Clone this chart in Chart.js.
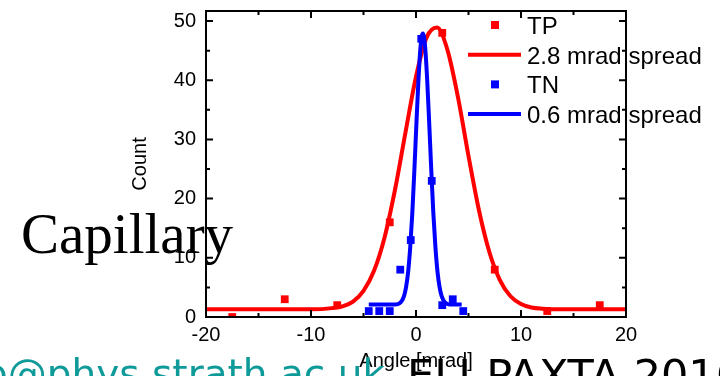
<!DOCTYPE html>
<html>
<head>
<meta charset="utf-8">
<script src="https://cdn.jsdelivr.net/npm/chart.js@4/dist/chart.umd.min.js"></script>
<style>
  html, body { margin: 0; padding: 0; background: #fff; overflow: hidden; }
  #wrap { position: relative; width: 720px; height: 376px; overflow: hidden; }
  canvas { position: absolute; left: 0; top: 0; }
  .slide { position: absolute; white-space: nowrap; line-height: 1; }
  #capillary { left: 21px; top: 201px; font: 57px "Liberation Serif", serif; color: #000; }
  #email { left: -17px; top: 351px; font: 39px "DejaVu Sans", sans-serif; color: #0f9a9a; }
  #event { left: 407px; top: 350px; font: 43px "DejaVu Sans", sans-serif; color: #000; }
</style>
</head>
<body>
<div id="wrap">
  <canvas id="chart" width="720" height="376"></canvas>
  <div class="slide" id="capillary">Capillary</div>
  <div class="slide" id="email">p@phys.strath.ac.uk</div>
  <div class="slide" id="event">ELI-PAXTA 2016</div>
</div>
<script>
// measured counts (squares)
const TP_ANGLE = [-17.5, -12.5, -7.5, -2.5, 2.5, 7.5, 12.5, 17.5];
const TP_COUNT = [0, 3, 2, 16, 48, 8, 1, 2];
const TN_ANGLE = [-4.5, -3.5, -2.5, -1.5, -0.5, 0.5, 1.5, 2.5, 3.5, 4.5];
const TN_COUNT = [1, 1, 1, 8, 13, 47, 23, 2, 3, 1];

// fitted curves
const FIT_TP_ANGLE = [-20, -14, -10, -8, -7, -6, -5, -4, -3, -2, -1, 0, 1, 2, 3, 4, 5, 6, 7, 8, 9, 10, 11, 12, 14, 20];
const FIT_TP_COUNT = [1.3, 1.3, 1.3, 1.5, 1.8, 2.6, 4.4, 7.8, 13.4, 21.5, 31.2, 40.6, 47.2, 48.9, 45.1, 37.1, 27.2, 18.0, 10.9, 6.2, 3.5, 2.2, 1.6, 1.4, 1.3, 1.3];
const FIT_TN_ANGLE = [-4.5, -2, -1.45, -1.15, -0.95, -0.75, -0.55, -0.35, -0.15, 0.05, 0.25, 0.45, 0.65, 0.85, 1.05, 1.25, 1.45, 1.65, 1.85, 2.05, 2.25, 2.45, 2.75, 3.25, 4.35];
const FIT_TN_COUNT = [2.1, 2.1, 2.5, 3.5, 5.0, 7.6, 11.8, 17.6, 25.0, 33.1, 40.6, 46.0, 47.9, 46.0, 40.6, 33.1, 25.0, 17.6, 11.8, 7.6, 5.0, 3.5, 2.5, 2.1, 2.1];

const LEGEND_LABELS = ['TP', '2.8 mrad spread', 'TN', '0.6 mrad spread'];

// axes
const X_TICKS = [-20, -10, 0, 10, 20];
const X_MINOR = [-15, -5, 5, 15];
const Y_TICKS = [0, 10, 20, 30, 40, 50];
const Y_MINOR = [5, 15, 25, 35, 45];

const RED = '#ff0000';
const BLUE = '#0000ff';
const FONT = 'Liberation Sans, Arial, sans-serif';

const toPoints = (xs, ys) => xs.map((x, i) => ({ x, y: ys[i] }));

// box frame with inward ticks on all four sides
const frameTicks = {
  id: 'frameTicks',
  afterDatasetsDraw(chart) {
    const { ctx, chartArea: a, scales: { x, y } } = chart;
    ctx.save();
    ctx.strokeStyle = '#000';
    ctx.lineWidth = 2;
    ctx.strokeRect(a.left, a.top, a.right - a.left, a.bottom - a.top);
    ctx.beginPath();
    const xt = (v, len) => {
      const px = x.getPixelForValue(v);
      ctx.moveTo(px, a.bottom); ctx.lineTo(px, a.bottom - len);
      ctx.moveTo(px, a.top); ctx.lineTo(px, a.top + len);
    };
    const yt = (v, len) => {
      const py = y.getPixelForValue(v);
      ctx.moveTo(a.left, py); ctx.lineTo(a.left + len, py);
      ctx.moveTo(a.right, py); ctx.lineTo(a.right - len, py);
    };
    X_TICKS.forEach(v => xt(v, 7));
    X_MINOR.forEach(v => xt(v, 4));
    Y_TICKS.forEach(v => yt(v, 7));
    Y_MINOR.forEach(v => yt(v, 4));
    ctx.stroke();
    ctx.restore();
  }
};

// legend sitting over the top-right corner of the plot
const insetLegend = {
  id: 'insetLegend',
  afterDraw(chart) {
    const ctx = chart.ctx;
    ctx.save();
    ctx.font = '24px ' + FONT;
    ctx.textBaseline = 'alphabetic';
    chart.data.datasets.forEach((ds, i) => {
      const base = 34 + i * 29.7;
      const mid = base - 9;
      if (ds.showLine) {
        ctx.strokeStyle = ds.borderColor;
        ctx.lineWidth = ds.borderWidth;
        ctx.beginPath();
        ctx.moveTo(468, mid);
        ctx.lineTo(521, mid);
        ctx.stroke();
      } else {
        ctx.fillStyle = ds.pointBackgroundColor;
        ctx.fillRect(491, mid - 4, 8, 8);
      }
      ctx.fillStyle = '#000';
      ctx.fillText(ds.label, 527, base);
    });
    ctx.restore();
  }
};

new Chart(document.getElementById('chart'), {
  type: 'scatter',
  data: {
    datasets: [
      {
        label: LEGEND_LABELS[0],
        data: toPoints(TP_ANGLE, TP_COUNT),
        showLine: false,
        pointStyle: 'rect',
        pointRadius: 5.5,
        pointBackgroundColor: RED,
        pointBorderColor: RED,
        pointBorderWidth: 0,
        order: 2
      },
      {
        label: LEGEND_LABELS[1],
        data: toPoints(FIT_TP_ANGLE, FIT_TP_COUNT),
        showLine: true,
        borderColor: RED,
        borderWidth: 4,
        pointRadius: 0,
        cubicInterpolationMode: 'monotone',
        order: 3
      },
      {
        label: LEGEND_LABELS[2],
        data: toPoints(TN_ANGLE, TN_COUNT),
        showLine: false,
        pointStyle: 'rect',
        pointRadius: 5.5,
        pointBackgroundColor: BLUE,
        pointBorderColor: BLUE,
        pointBorderWidth: 0,
        order: 0
      },
      {
        label: LEGEND_LABELS[3],
        data: toPoints(FIT_TN_ANGLE, FIT_TN_COUNT),
        showLine: true,
        borderColor: BLUE,
        borderWidth: 4,
        pointRadius: 0,
        cubicInterpolationMode: 'monotone',
        order: 1
      }
    ]
  },
  options: {
    responsive: false,
    animation: false,
    devicePixelRatio: 1,
    layout: { padding: { left: 0, top: 11, right: 94, bottom: 0 } },
    plugins: { legend: { display: false }, tooltip: { enabled: false } },
    scales: {
      x: {
        type: 'linear',
        min: -20,
        max: 20,
        afterBuildTicks: s => { s.ticks = X_TICKS.map(value => ({ value })); },
        afterFit: s => { s.height = 59; s.paddingLeft = 0; s.paddingRight = 0; },
        grid: { display: false, drawTicks: false },
        border: { display: false },
        ticks: { color: '#000', font: { family: FONT, size: 20 }, padding: 6 },
        title: {
          display: true,
          text: 'Angle [mrad]',
          color: '#000',
          font: { family: FONT, size: 20 },
          padding: { top: 0, bottom: 3 }
        }
      },
      y: {
        min: 0,
        max: 51.7,
        afterBuildTicks: s => { s.ticks = Y_TICKS.map(value => ({ value })); },
        afterFit: s => { s.width = 206; s.paddingTop = 0; s.paddingBottom = 0; },
        grid: { display: false, drawTicks: false },
        border: { display: false },
        ticks: { color: '#000', font: { family: FONT, size: 20 }, padding: 10 },
        title: {
          display: true,
          text: 'Count',
          color: '#000',
          font: { family: FONT, size: 20 },
          padding: { top: 128, bottom: 0 }
        }
      }
    }
  },
  plugins: [frameTicks, insetLegend]
});
</script>
</body>
</html>
